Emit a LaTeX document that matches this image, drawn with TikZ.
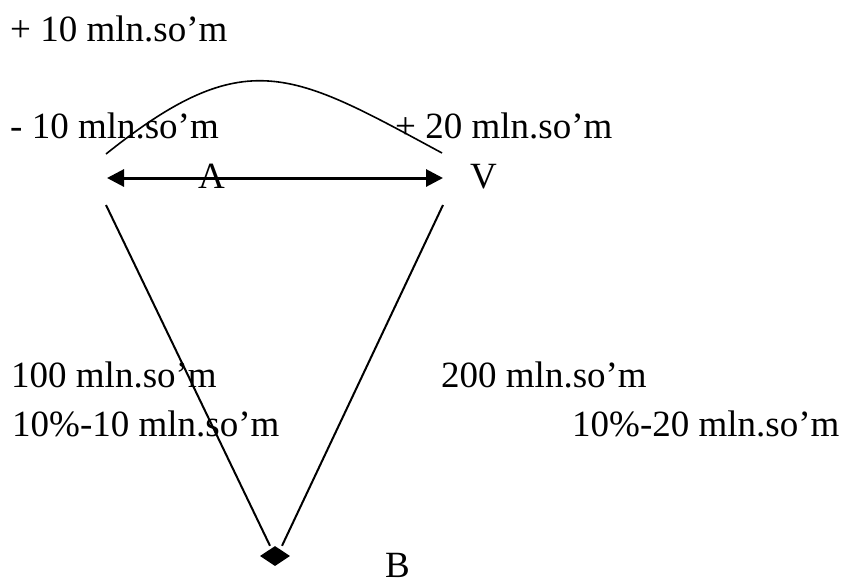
\documentclass[tikz,border=0pt]{standalone}
\usepackage{fontspec}
\setmainfont{Liberation Serif}
\usepackage{tikz}
\usetikzlibrary{positioning, arrows.meta, shapes.geometric}

\tikzset{
  lbl/.style={inner sep=0pt, anchor=base west, font=\fontsize{37}{44}\selectfont},
  link/.style={line width=2pt},
}

\begin{document}
\begin{tikzpicture}[x=1pt, y=-1pt]
        \useasboundingbox (0,0) rectangle (843,584);
        % labels
        \node[lbl] (plusA) at (10, 41) {+ 10 mln.so’m};
        \node[lbl] (minusA) at (10, 138) {- 10 mln.so’m};
        \node[lbl] (plusV) at (395, 138) {+ 20 mln.so’m};
        \node[lbl] (ptA) at (198, 188) {A};
        \node[lbl] (ptV) at (470, 188) {V};
        \node[lbl] (sumA) at (11, 387) {100 mln.so’m};
        \node[lbl] (sumV) at (441, 387) {200 mln.so’m};
        \node[lbl] (pctA) at (12, 436) {10\%-10 mln.so’m};
        \node[lbl] (pctV) at (572, 436) {10\%-20 mln.so’m};
        \node[lbl] (ptB) at (385, 577) {B};
        % end points
        \coordinate (arcA) at (106, 154);
        \coordinate (arcV) at (442, 153);
        \coordinate (arrA) at (107, 178);
        \coordinate (arrV) at (443, 178);
        \coordinate (legA) at (106, 205);
        \coordinate (legV) at (443, 205);
        \node[diamond, fill, inner sep=0pt, aspect=1.5,
               minimum width=30pt, minimum height=20pt] (tip) at (275, 556) {};
        \draw[line width=1.6pt] (arcA) .. controls (246, 42) and (292, 72) .. (arcV);
        \draw[{Triangle[length=17pt, width=17pt]}-{Triangle[length=17pt, width=17pt]}, line width=3pt]
          (arrA) -- (arrV);
        \draw[link] (legA) -- ([xshift=-5pt]tip.north);
        \draw[link] (legV) -- ([xshift=7pt]tip.north);
      \end{tikzpicture}
\end{document}
